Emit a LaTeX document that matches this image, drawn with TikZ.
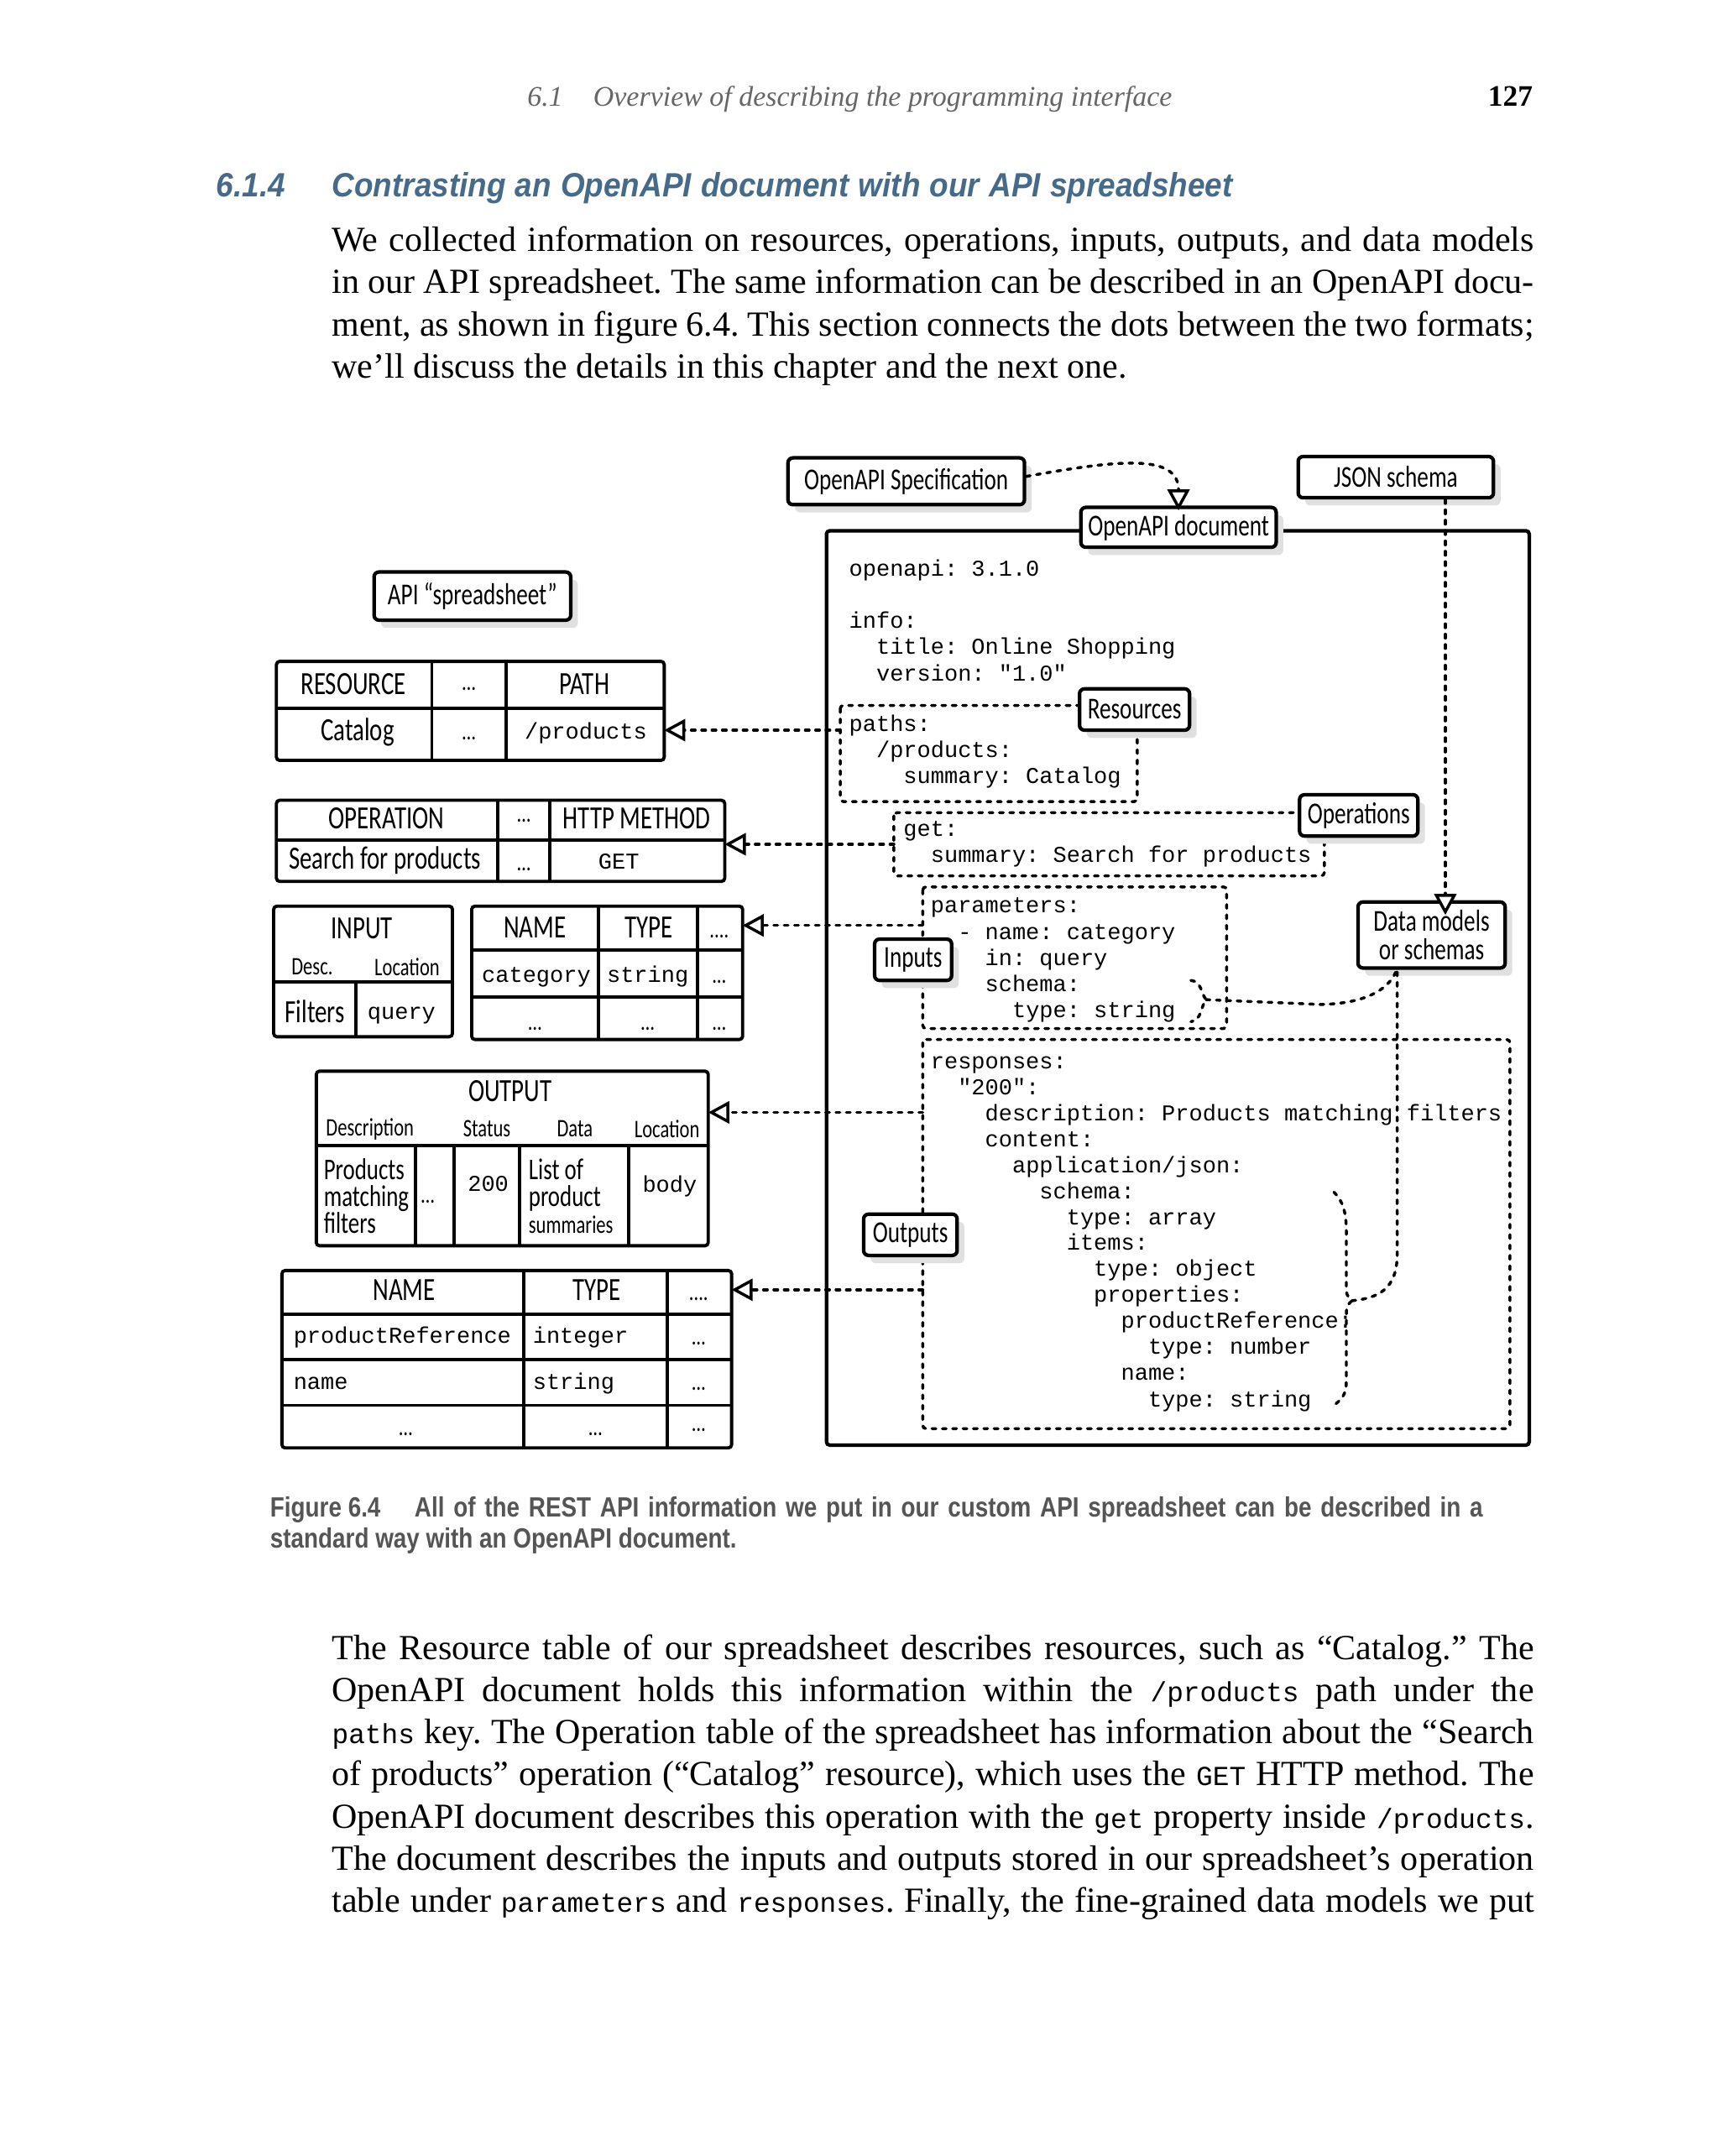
\documentclass[tikz,border=0pt]{standalone}
\usepackage{fontspec}
\setmainfont{Liberation Serif}
\newfontfamily\handfont[FakeStretch=0.75]{Carlito}
\newfontfamily\yamlmono{Liberation Mono}
\newfontfamily\headsans[FakeStretch=0.92]{Liberation Sans}
\newfontfamily\capsans[FakeStretch=0.84]{Liberation Sans}
\usetikzlibrary{arrows.meta,shadows}
\definecolor{headblue}{HTML}{466A8A}
\definecolor{capgray}{HTML}{555555}
\definecolor{runhead}{HTML}{666666}
\newcommand\hhead{\handfont\fontsize{10}{11}\selectfont}
\newcommand\hlabel{\handfont\fontsize{9.4}{8.7}\selectfont}
\newcommand\hsub{\handfont\fontsize{7.8}{8.5}\selectfont}
\newcommand\yamlfont{\yamlmono\fontsize{7}{8}\selectfont}
\newcommand\bodyfont{\fontsize{10.9}{13}\selectfont}
\newcommand\inlinecode[1]{{\yamlmono\fontsize{8.5}{10}\selectfont #1}}
\newcommand\fullline[1]{\makebox[371.3pt][s]{#1}}
\def\px{*0.4248pt}
% one line of the yaml listing: name, indent, baseline, text
\newcommand\yaml[4]{\node[codeline] (#1) at ({617+9.887*#2},#3) {#4};}
\begin{document}
\frenchspacing
\begin{tikzpicture}[x=0.4248pt,y=-0.4248pt]
	\tikzstyle{bodyline}=[anchor=base west,inner sep=0pt,font=\bodyfont]
	\tikzstyle{capline}=[anchor=base west,inner sep=0pt,text=capgray,font=\capsans\bfseries\fontsize{8.6}{10}\selectfont]
	\tikzstyle{codeline}=[anchor=base west,inner sep=0pt,font=\yamlfont]
	\tikzstyle{frame}=[line width=1.1pt,rounded corners=1pt]
	\tikzstyle{tabline}=[line width=1pt,rounded corners=1pt]
	\tikzstyle{dotline}=[line width=0.9pt,line cap=round,dash pattern=on 1.2pt off 2pt]
	\tikzstyle{link}=[dotline,-{Triangle[fill=white,length=6.5pt,width=6.8pt]}]
	\tikzstyle{labelbox}=[draw,fill=white,line width=1.1pt,rounded corners=1.5pt,inner sep=1pt,align=center,font=\hlabel,
		drop shadow={shadow xshift=2.2pt,shadow yshift=-2.4pt,fill=black!12,opacity=1}]
	\tikzstyle{head}=[inner sep=0pt,font=\hhead,text height=7pt,text depth=2pt]
	\tikzstyle{sub}=[inner sep=0pt,font=\hsub]
	\tikzstyle{dots}=[inner sep=0pt,font=\hsub]
	\tikzstyle{mono}=[inner sep=0pt,font=\yamlfont,text height=5pt,text depth=1.5pt]
	\path[use as bounding box,fill=white] (0,0) rectangle (1250,1568);

	% running head and section title
	\node[anchor=base west,inner sep=0pt,text=runhead,font=\itshape\fontsize{8.8}{10}\selectfont] (rh-num) at (383,77) {6.1};
	\node[anchor=base west,inner sep=0pt,text=runhead,font=\itshape\fontsize{8.8}{10}\selectfont] (rh-title) at (431,77)
		{\makebox[178.8pt][s]{Overview of describing the programming interface}};
	\node[anchor=base east,inner sep=0pt,font=\bfseries\fontsize{9.2}{10}\selectfont] (rh-page) at (1115,77) {127};
	\node[anchor=base west,inner sep=0pt,text=headblue,font=\headsans\bfseries\itshape\fontsize{10.4}{12}\selectfont] (sec-num) at (157,143) {6.1.4};
	\node[anchor=base west,inner sep=0pt,text=headblue,font=\headsans\bfseries\itshape\fontsize{10.4}{12}\selectfont] (sec-title) at (241,143)
		{\makebox[278.2pt][s]{Contrasting an OpenAPI document with our API spreadsheet}};

	\node[bodyline] (top1) at (241,183) {\fullline{We collected information on resources, operations, inputs, outputs, and data models}};
	\node[bodyline] (top2) at (241,213.6) {\fullline{in our API spreadsheet. The same information can be described in an OpenAPI docu-}};
	\node[bodyline] (top3) at (241,244.2) {\fullline{ment, as shown in figure 6.4. This section connects the dots between the two formats;}};
	\node[bodyline] (top4) at (241,274.8) {we’ll discuss the details in this chapter and the next one.};

	% spreadsheet tables
	\draw[tabline] (201,481) rectangle (483,553);
	\draw[tabline] (201,515) -- (483,515) (314,481) -- (314,553) (368,481) -- (368,553);
	\node[head] (res-h1) at (257,499) {RESOURCE};
	\node[dots] (res-h2) at (341,501) {\ldots};
	\node[head] (res-h3) at (425,499) {PATH};
	\node[head] (res-c1) at (260,533) {Catalog};
	\node[dots] (res-c2) at (341,537) {\ldots};
	\node[mono] (res-c3) at (426,533) {/products};
	\coordinate (restab) at (483,531);

	\draw[tabline] (201,582) rectangle (527,641);
	\draw[tabline] (201,611) -- (527,611) (362,582) -- (362,641) (400,582) -- (400,641);
	\node[head] (op-h1) at (281,597) {OPERATION};
	\node[dots] (op-h2) at (381,597) {\ldots};
	\node[head] (op-h3) at (463,597) {HTTP METHOD};
	\node[head] (op-c1) at (280,626) {Search for products};
	\node[dots] (op-c2) at (381,632) {\ldots};
	\node[mono] (op-c3) at (450,628) {GET};
	\coordinate (optab) at (527,614);

	\draw[tabline] (199,659) rectangle (329,754);
	\draw[tabline] (199,714) -- (329,714) (259,714) -- (259,754);
	\node[head] (in-h1) at (263,677) {INPUT};
	\node[sub] (in-h2) at (227,703) {Desc.};
	\node[sub] (in-h3) at (296,703) {Location};
	\node[head] (in-c1) at (229,738) {Filters};
	\node[mono] (in-c2) at (292,737) {query};

	\draw[tabline] (343,659) rectangle (540,756);
	\draw[tabline] (343,691) -- (540,691) (343,725) -- (540,725) (435,659) -- (435,756) (507,659) -- (507,756);
	\node[head] (par-h1) at (389,676) {NAME};
	\node[head] (par-h2) at (472,676) {TYPE};
	\node[dots] (par-h3) at (523,681) {....};
	\node[mono] (par-c1) at (390,710) {category};
	\node[mono] (par-c2) at (471,710) {string};
	\node[dots] (par-c3) at (523,714) {\ldots};
	\node[dots] (par-d1) at (389,748) {\ldots};
	\node[dots] (par-d2) at (471,748) {\ldots};
	\node[dots] (par-d3) at (523,748) {\ldots};
	\coordinate (partab) at (540,673);

	\draw[tabline] (230,779) rectangle (515,906);
	\draw[tabline] (230,833) -- (515,833) (302,833) -- (302,906) (330,833) -- (330,906) (378,833) -- (378,906) (457,833) -- (457,906);
	\node[head] (out-h1) at (371,795) {OUTPUT};
	\node[sub] (out-h2) at (269,821) {Description};
	\node[sub] (out-h3) at (354,821) {Status};
	\node[sub] (out-h4) at (418,821) {Data};
	\node[sub] (out-h5) at (485,821) {Location};
	\node[anchor=west,inner sep=0pt,align=left,font=\handfont\fontsize{9.3}{8.3}\selectfont] (out-c1) at (235,870) {Products\\matching\\filters};
	\node[dots] (out-c2) at (311,874) {\ldots};
	\node[mono] (out-c3) at (355,862) {200};
	\node[anchor=west,inner sep=0pt,align=left,font=\handfont\fontsize{9.3}{8.3}\selectfont] (out-c4) at (384,870) {List of\\product\\{\hsub summaries}};
	\node[mono] (out-c5) at (487,863) {body};
	\coordinate (outtab) at (515,809);

	\draw[tabline] (205,924) rectangle (532,1053);
	\draw[tabline] (205,956) -- (532,956) (205,989) -- (532,989) (205,1022) -- (532,1022) (381,924) -- (381,1053) (485,924) -- (485,1053);
	\node[head] (dm-h1) at (294,940) {NAME};
	\node[head] (dm-h2) at (434,940) {TYPE};
	\node[dots] (dm-h3) at (508,945) {....};
	\node[mono,anchor=west] (dm-a1) at (213,973) {productReference};
	\node[mono,anchor=west] (dm-a2) at (387,973) {integer};
	\node[dots] (dm-a3) at (508,977) {\ldots};
	\node[mono,anchor=west] (dm-b1) at (213,1006) {name};
	\node[mono,anchor=west] (dm-b2) at (387,1006) {string};
	\node[dots] (dm-b3) at (508,1010) {\ldots};
	\node[dots] (dm-c1) at (295,1043) {\ldots};
	\node[dots] (dm-c2) at (433,1043) {\ldots};
	\node[dots] (dm-c3) at (508,1040) {\ldots};
	\coordinate (dmtab) at (532,938);

	% the OpenAPI document
	\draw[frame] (601,386) rectangle (1112,1051);
	\draw[dotline,rounded corners=1pt] (611,513) rectangle (827,583);
	\draw[dotline,rounded corners=1pt] (650,591) rectangle (963,637);
	\draw[dotline,rounded corners=1pt] (671,645) rectangle (892,748);
	\draw[dotline,rounded corners=1pt] (671,756) rectangle (1098,1039);
	\coordinate (resleft) at (611,531);
	\coordinate (opsleft) at (650,614);
	\coordinate (parleft) at (671,673);
	\coordinate (outleft) at (671,809);
	\coordinate (dmleft) at (671,938);

	\yaml{y1}{0}{419}{openapi: 3.1.0}
	\yaml{y2}{0}{457}{info:}
	\yaml{y3}{2}{476}{title: Online Shopping}
	\yaml{y4}{2}{495}{version: "1.0"}
	\yaml{y5}{0}{532}{paths:}
	\yaml{y6}{2}{551}{/products:}
	\yaml{y7}{4}{570}{summary: Catalog}
	\yaml{y8}{4}{608}{get:}
	\yaml{y9}{6}{627}{summary: Search for products}
	\yaml{y10}{6}{664}{parameters:}
	\yaml{y11}{8}{683}{- name: category}
	\yaml{y12}{10}{702}{in: query}
	\yaml{y13}{10}{721}{schema:}
	\yaml{y14}{12}{740}{type: string}
	\yaml{y15}{6}{777}{responses:}
	\yaml{y16}{8}{796}{"200":}
	\yaml{y17}{10}{815}{description: Products matching filters}
	\yaml{y18}{10}{834}{content:}
	\yaml{y19}{12}{853}{application/json:}
	\yaml{y20}{14}{872}{schema:}
	\yaml{y21}{16}{891}{type: array}
	\yaml{y22}{16}{909}{items:}
	\yaml{y23}{18}{928}{type: object}
	\yaml{y24}{18}{947}{properties:}
	\yaml{y25}{20}{966}{productReference:}
	\yaml{y26}{22}{985}{type: number}
	\yaml{y27}{20}{1004}{name:}
	\yaml{y28}{22}{1023}{type: string}

	% braces round the schemas
	\draw[dotline] (866,713) .. controls (874,714) and (873,722) .. (877,727) .. controls (873,732) and (874,742) .. (866,743);
	\coordinate (smalltip) at (877,727);
	\draw[dotline] (970,867) .. controls (980,877) and (979,890) .. (979,905) -- (979,932) .. controls (979,942) .. (983,946)
		.. controls (979,950) .. (979,960) -- (979,1005) .. controls (979,1015) and (975,1018) .. (970,1022);
	\coordinate (bigtip) at (983,946);

	\node[labelbox,minimum width=172\px,minimum height=34\px] (specbox) at (659,350) {OpenAPI Specification};
	\node[labelbox,minimum width=142\px,minimum height=30\px] (jsonbox) at (1015,347) {JSON schema};
	\node[labelbox,minimum width=142\px,minimum height=29\px] (docbox) at (857,383.5) {OpenAPI document};
	\node[labelbox,minimum width=143\px,minimum height=35\px] (sheetbox) at (343.5,433.5) {API “spreadsheet”};
	\node[labelbox,minimum width=80\px,minimum height=30\px] (resbox) at (825,516) {Resources};
	\node[labelbox,minimum width=86\px,minimum height=30\px] (opsbox) at (988,593) {Operations};
	\node[labelbox,minimum width=56\px,minimum height=30\px] (inbox) at (664,698) {Inputs};
	\node[labelbox,minimum width=68\px,minimum height=30\px] (outbox) at (662,898) {Outputs};
	\node[labelbox,minimum width=107\px,minimum height=48\px] (dmbox) at (1041,680) {Data models\\or schemas};
	\coordinate (dmhead) at (1051,656);
	\coordinate (dmfoot) at (1016,704);

	% connectors
	\draw[link,shorten >=-1.5pt] ([yshift=1.5pt]specbox.east) .. controls (815,334) and (857,330) .. (docbox.north);
	\draw[link,shorten >=-4pt] (jsonbox.south -| dmhead) -- (dmhead);
	\draw[link] (resleft) -- (restab);
	\draw[link] (opsleft) -- (optab);
	\draw[link] (parleft) -- (partab);
	\draw[link] (outleft) -- (outtab);
	\draw[link] (dmleft) -- (dmtab);
	\draw[dotline] (smalltip) -- (960,730.5) .. controls (995,730) and (1012,718) .. (dmfoot);
	\draw[dotline] (bigtip) .. controls (1002,944) and (1016,938) .. (1016,912) -- (dmfoot);

	% caption and following text
	\node[capline] (cap-num) at (196,1103) {Figure 6.4};
	\node[capline] (cap-1) at (301,1103) {\makebox[330pt][s]{All of the REST API information we put in our custom API spreadsheet can be described in a}};
	\node[capline] (cap-2) at (196,1126) {standard way with an OpenAPI document.};

	\node[bodyline] (bot1) at (241,1207) {\fullline{The Resource table of our spreadsheet describes resources, such as “Catalog.” The}};
	\node[bodyline] (bot2) at (241,1237.6) {\fullline{OpenAPI document holds this information within the \inlinecode{/products} path under the}};
	\node[bodyline] (bot3) at (241,1268.2) {\fullline{\inlinecode{paths} key. The Operation table of the spreadsheet has information about the “Search}};
	\node[bodyline] (bot4) at (241,1298.8) {\fullline{of products” operation (“Catalog” resource), which uses the \inlinecode{GET} HTTP method. The}};
	\node[bodyline] (bot5) at (241,1329.4) {\fullline{OpenAPI document describes this operation with the \inlinecode{get} property inside \inlinecode{/products}.}};
	\node[bodyline] (bot6) at (241,1360) {\fullline{The document describes the inputs and outputs stored in our spreadsheet’s operation}};
	\node[bodyline] (bot7) at (241,1390.6) {\fullline{table under \inlinecode{parameters} and \inlinecode{responses}. Finally, the fine-grained data models we put}};
\end{tikzpicture}
\end{document}
